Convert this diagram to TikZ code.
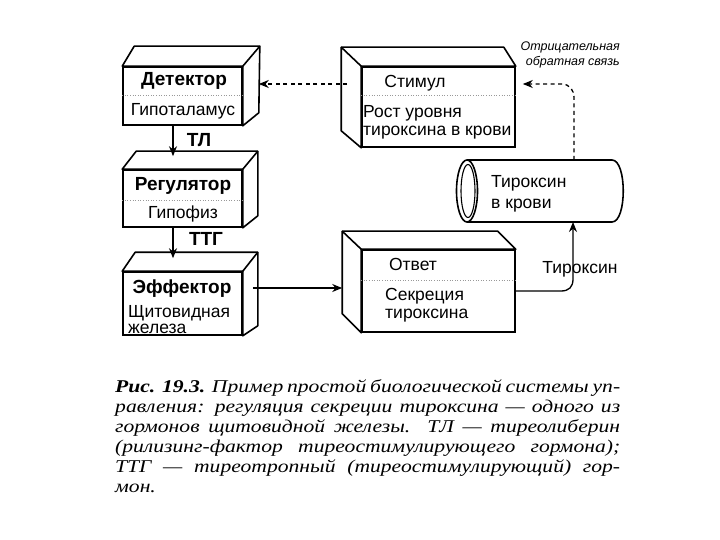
\documentclass[tikz,border=0pt]{standalone}
\usepackage{fontspec}
\setmainfont{Liberation Sans}
\newfontfamily\capfont[FakeStretch=1.2]{Liberation Serif}
\usetikzlibrary{fit,calc,arrows.meta}
\tikzset{
  frontface/.style={draw, line width=1.6pt, inner sep=0pt, fill=white},
  edge3d/.style={draw, line width=1.6pt, line join=round, fill=white},
  divider/.style={draw=black!40, line width=0.6pt, dotted},
  lbl/.style={font=\fontsize{17.5}{19}\selectfont, inner sep=0pt, anchor=mid},
  lblw/.style={lbl, anchor=mid west},
  lblb/.style={lbl, font=\fontsize{19}{21}\selectfont\bfseries},
  arr/.style={line width=1.3pt, -{Stealth[length=10pt,width=8pt]}},
  darr/.style={arr, dash pattern=on 4pt off 3.5pt},
  note/.style={font=\fontsize{12.5}{15}\selectfont\itshape, inner sep=0pt, align=right, anchor=north east},
  caption/.style={font=\capfont\itshape\fontsize{18}{20}\selectfont, inner sep=0pt, text width=505pt, align=justify, anchor=north west}
}
\begin{document}
\begin{tikzpicture}[x=1pt,y=-1pt]
\useasboundingbox[fill=white] (0,0) rectangle (720,540);

% ---- Detector
\node[frontface, fit={(123,67) (242,125)}] (d1) {};
\draw[edge3d] (d1.north west) -- ($(d1.north west)+(12,-20)$) -- ($(d1.north east)+(17,-20)$) -- ($(d1.south east)+(16,-13)$) -- (d1.south east) -- (d1.north east) -- cycle;
\draw[edge3d] ($(d1.north east)+(17,-20)$) -- (d1.north east);
\draw[divider] (d1.west |- 0,95) -- (d1.east |- 0,95);
\node[lblb] (d1a) at (184,83) {Детектор};
\node[lbl] (d1b) at (183,113) {Гипоталамус};

% ---- Regulator
\node[frontface, fit={(123,170) (242,227)}] (r1) {};
\draw[edge3d] (r1.north west) -- ($(r1.north west)+(14,-18)$) -- ($(r1.north east)+(15,-18)$) -- ($(r1.south east)+(15,-12)$) -- (r1.south east) -- (r1.north east) -- cycle;
\draw[edge3d] ($(r1.north east)+(15,-18)$) -- (r1.north east);
\draw[divider] (r1.west |- 0,200) -- (r1.east |- 0,200);
\node[lblb] (r1a) at (183,188) {Регулятор};
\node[lbl] (r1b) at (183,216) {Гипофиз};

% ---- Effector
\node[frontface, fit={(123,272) (242,335)}] (e1) {};
\draw[edge3d] (e1.north west) -- ($(e1.north west)+(13,-19)$) -- ($(e1.north east)+(15,-19)$) -- ($(e1.south east)+(15,-10)$) -- (e1.south east) -- (e1.north east) -- cycle;
\draw[edge3d] ($(e1.north east)+(15,-19)$) -- (e1.north east);
\node[lblb] (e1a) at (182,291) {Эффектор};
\node[lblw] (e1b) at (128,315) {Щитовидная};
\node[lblw] (e1c) at (128,331) {железа};

% ---- Stimulus
\node[frontface, fit={(362,67) (515,147)}] (s1) {};
\draw[edge3d] (s1.south west) -- ($(s1.south west)+(-20,-17)$) -- ($(s1.north west)+(-20,-19)$) -- ($(s1.north east)+(-12,-19)$) -- (s1.north east) -- (s1.north west) -- cycle;
\draw[edge3d] ($(s1.north west)+(-20,-19)$) -- (s1.north west);
\draw[divider] (s1.west |- 0,95) -- (s1.east |- 0,95);
\node[lbl] (s1a) at (415,85) {Стимул};
\node[lblw] (s1b) at (363,115) {Рост уровня};
\node[lblw] (s1c) at (363,133) {тироксина в крови};

% ---- Response
\node[frontface, fit={(362,250) (515,332)}] (o1) {};
\draw[edge3d] (o1.south west) -- ($(o1.south west)+(-19,-19)$) -- ($(o1.north west)+(-19,-18)$) -- ($(o1.north east)+(-18,-18)$) -- (o1.north east) -- (o1.north west) -- cycle;
\draw[edge3d] ($(o1.north west)+(-19,-18)$) -- (o1.north west);
\draw[divider] (o1.west |- 0,280) -- (o1.east |- 0,280);
\node[lbl] (o1a) at (413,268) {Ответ};
\node[lblw] (o1b) at (385,298) {Секреция};
\node[lblw] (o1c) at (385,316) {тироксина};

% ---- Cylinder (thyroxine in blood)
\draw[line width=1.6pt, fill=white] (467,160) -- (612,160) .. controls (627,160) and (627,222) .. (612,222) -- (467,222);
\draw[line width=1.6pt, fill=white] (467,191) ellipse [x radius=10.5, y radius=31];
\draw[line width=1.1pt] (468,191) ellipse [x radius=7, y radius=26.5];
\coordinate (cyltop) at (574,160);
\coordinate (cylbot) at (573,222);
\node[lblw] (cyla) at (491,185) {Тироксин};
\node[lblw] (cylb) at (491,206) {в крови};

% ---- Connectors
\draw[arr] ([xshift=-9.5pt]d1.south) -- ([xshift=-9.5pt,yshift=13pt]r1.north);
\node[lblb] (tl) at (199,144) {ТЛ};
\draw[arr] ([xshift=-9.5pt]r1.south) -- ([xshift=-9.5pt,yshift=13pt]e1.north);
\node[lblb] (ttg) at (206,243) {ТТГ};
\draw[arr] ([xshift=10pt,yshift=15.5pt]e1.east) -- ([xshift=-19pt,yshift=3pt]o1.west);
\draw[darr] ([xshift=-14pt,yshift=23pt]s1.west) -- ([xshift=16pt,yshift=12pt]d1.east);
\draw[arr] (o1.east) -- (561,291) .. controls (569,291) and (573,287) .. (573,279) -- (cylbot);
\node[lbl] (thx) at (580,271) {Тироксин};
\draw[darr] (cyltop) -- (574,98) .. controls (574,90) and (570,84) .. (561,84) -- ([xshift=7pt,yshift=23pt]s1.east);
\node[note] (neg) at (620,42) {Отрицательная\\обратная связь};

% ---- Caption
\node[caption] (cap) at (115,379) {\tolerance=10000\hyphenpenalty=10000\exhyphenpenalty=10000
{\bfseries Рис. 19.3.} Пример простой биологической системы уп-\linebreak
равления: регуляция секреции тироксина — одного из\linebreak
гормонов щитовидной железы. ТЛ — тиреолиберин\linebreak
(рилизинг-фактор тиреостимулирующего гормона);\linebreak
ТТГ — тиреотропный (тиреостимулирующий) гор-\linebreak
мон.};
\end{tikzpicture}
\end{document}
